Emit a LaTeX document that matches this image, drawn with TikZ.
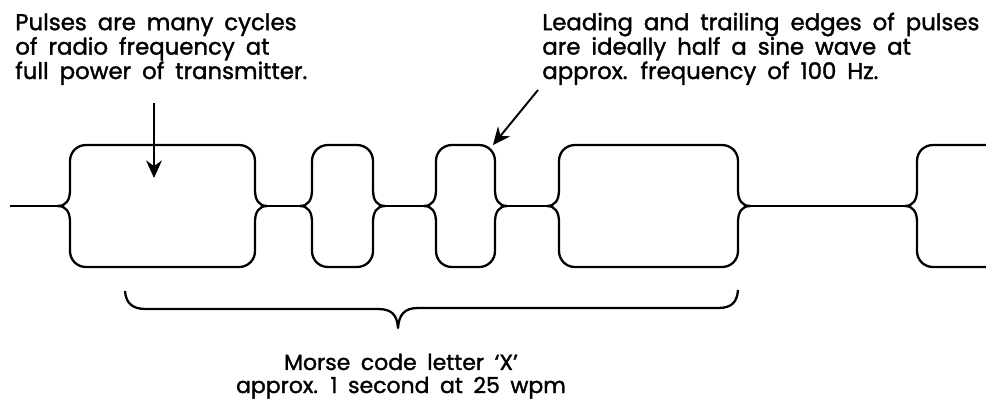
\documentclass[tikz,border=0pt]{standalone}
\usepackage{fontspec}
\setmainfont{Poppins}[WordSpace=1.8,FakeBold=1.5]
\usetikzlibrary{arrows.meta}
\tikzset{
	wave/.style={line width=1.3pt,line join=round},
	note/.style={inner sep=0pt,align=left,font=\fontsize{13}{13.9}\selectfont},
	pointer/.style={line width=1.1pt,-{Stealth[length=10pt,width=9pt]}}
}
\begin{document}
\begin{tikzpicture}[x=0.02cm,y=-0.02cm]
	\useasboundingbox (0,0) rectangle (986,400);
	\begin{scope}
		\clip (0,0) rectangle (986,400);
		% pulses: left cusp / right cusp
		\foreach \a/\b in {58/267,300/385,424/507,547/750,905/1150}{
			\draw[wave] (\a,206) .. controls (\a+8,206) and (\a+12,200) .. (\a+12,190) -- (\a+12,161) .. controls (\a+12,152) and (\a+19,145) .. (\a+28,145) -- (\b-28,145) .. controls (\b-19,145) and (\b-12,152) .. (\b-12,161) -- (\b-12,190) .. controls (\b-12,200) and (\b-8,206) .. (\b,206);
			\draw[wave] (\a,206) .. controls (\a+8,206) and (\a+12,212) .. (\a+12,222) -- (\a+12,251) .. controls (\a+12,260) and (\a+19,267) .. (\a+28,267) -- (\b-28,267) .. controls (\b-19,267) and (\b-12,260) .. (\b-12,251) -- (\b-12,222) .. controls (\b-12,212) and (\b-8,206) .. (\b,206);
		}
		\foreach \a/\b in {10/58,267/300,385/424,507/547,750/905}
		\draw[wave] (\a,206) -- (\b,206);
	\end{scope}
	
	\node[note,anchor=base west] (pulsenote) at (15,79) {Pulses are many cycles\\of radio frequency at\\full power of transmitter.};
	\node[note,anchor=base west] (edgenote) at (542,79) {Leading and trailing edges of pulses\\are ideally half a sine wave at\\approx. frequency of 100 Hz.};
	
	\coordinate (p1) at (154,103);
	\coordinate (p1end) at (154,178);
	\coordinate (p2) at (538,90);
	\coordinate (p2end) at (493,145);
	\draw[pointer] (p1) -- (p1end);
	\draw[pointer] (p2) -- (p2end);
	
	% brace under the letter
	\draw[wave] (125,291) .. controls (126,303) and (132,309) .. (146,309) -- (378,309) .. controls (392,309) and (397,315) .. (398,328) .. controls (399,315) and (404,308) .. (418,308) -- (718,308) .. controls (732,308) and (737,302) .. (738,290);
	\node[note,align=center,anchor=base,font=\fontsize{12.5}{13.1}\selectfont] (letternote) at (401,393) {Morse code letter `X'\\approx. 1 second at 25 wpm};
\end{tikzpicture}
\end{document}
